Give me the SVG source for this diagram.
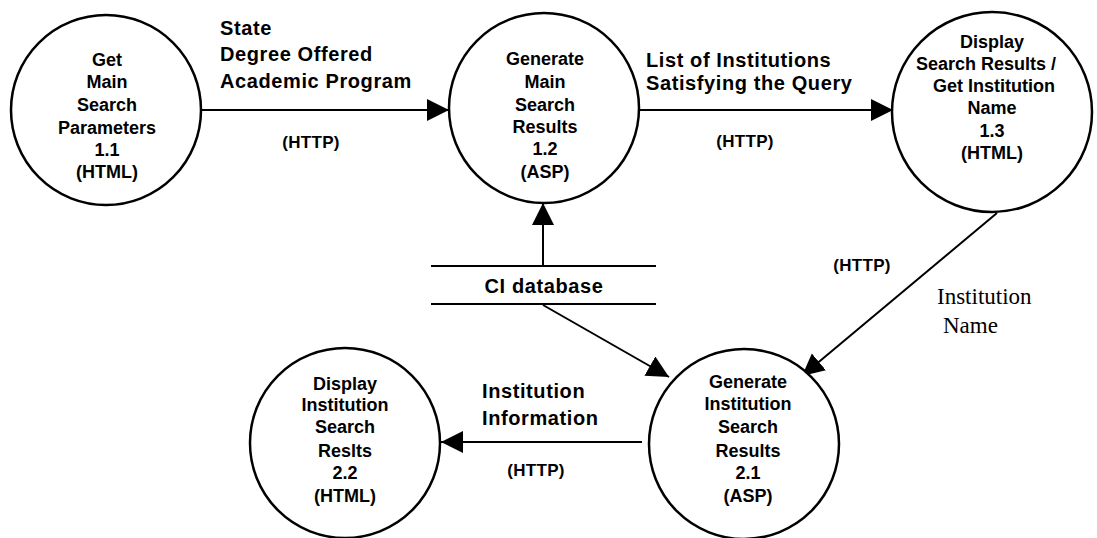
<svg xmlns="http://www.w3.org/2000/svg" width="1097" height="538" viewBox="0 0 1097 538">
  <style>
    .bubble { fill: #ffffff; stroke: #000000; stroke-width: 2.5; }
    .flow { fill: none; stroke: #000000; stroke-width: 2; }
    .store { fill: none; stroke: #000000; stroke-width: 2.2; }
    text { fill: #000000; }
    .nt { font-family: "Liberation Sans", Arial, sans-serif; font-weight: bold; font-size: 18px; text-anchor: middle; }
    .lbl { font-family: "Liberation Sans", Arial, sans-serif; font-weight: bold; font-size: 20px; letter-spacing: 0.6px; }
    .proto { font-family: "Liberation Sans", Arial, sans-serif; font-weight: bold; font-size: 17px; letter-spacing: 0.3px; text-anchor: middle; }
    .serif { font-family: "Liberation Serif", "Times New Roman", serif; font-size: 23px; }
  </style>
  <defs>
    <marker id="arrow" markerUnits="userSpaceOnUse" markerWidth="24" markerHeight="24" refX="22" refY="11" orient="auto">
      <path d="M0,0 L22,11 L0,22 Z" fill="#000000"/>
    </marker>
  </defs>

  <!-- data flows -->
  <g id="connectors">
    <line class="flow" x1="202" y1="110" x2="449" y2="110" marker-end="url(#arrow)"/>
    <line class="flow" x1="639" y1="110" x2="893" y2="110" marker-end="url(#arrow)"/>
    <line class="flow" x1="543" y1="266" x2="543" y2="203" marker-end="url(#arrow)"/>
    <line class="flow" x1="543" y1="305" x2="669" y2="377" marker-end="url(#arrow)"/>
    <line class="flow" x1="997" y1="213" x2="802" y2="376" marker-end="url(#arrow)"/>
    <line class="flow" x1="642" y1="442" x2="441" y2="442" marker-end="url(#arrow)"/>

    <text class="lbl" x="220" y="35">State</text>
    <text class="lbl" x="220" y="61">Degree Offered</text>
    <text class="lbl" x="220" y="88">Academic Program</text>
    <text class="proto" x="311" y="148">(HTTP)</text>

    <text class="lbl" x="646" y="67">List of Institutions</text>
    <text class="lbl" x="646" y="90">Satisfying the Query</text>
    <text class="proto" x="745" y="147">(HTTP)</text>

    <text class="proto" x="862" y="271">(HTTP)</text>
    <text class="serif" x="937" y="304">Institution</text>
    <text class="serif" x="943" y="333">Name</text>

    <text class="lbl" x="482" y="398">Institution</text>
    <text class="lbl" x="482" y="425">Information</text>
    <text class="proto" x="536" y="476">(HTTP)</text>
  </g>

  <!-- data store -->
  <g id="ci-database">
    <line class="store" x1="431" y1="266" x2="656" y2="266"/>
    <line class="store" x1="431" y1="304" x2="656" y2="304"/>
    <text class="lbl" x="544" y="293" text-anchor="middle">CI database</text>
  </g>

  <!-- processes -->
  <g id="p1-1">
    <circle class="bubble" cx="106" cy="110" r="95"/>
    <text class="nt" x="107" y="66">Get</text>
    <text class="nt" x="107" y="88">Main</text>
    <text class="nt" x="107" y="111">Search</text>
    <text class="nt" x="107" y="134">Parameters</text>
    <text class="nt" x="107" y="156">1.1</text>
    <text class="nt" x="107" y="178">(HTML)</text>
  </g>

  <g id="p1-2">
    <circle class="bubble" cx="544" cy="108" r="95"/>
    <text class="nt" x="545" y="65">Generate</text>
    <text class="nt" x="545" y="88">Main</text>
    <text class="nt" x="545" y="111">Search</text>
    <text class="nt" x="545" y="133">Results</text>
    <text class="nt" x="545" y="155">1.2</text>
    <text class="nt" x="545" y="178">(ASP)</text>
  </g>

  <g id="p1-3">
    <circle class="bubble" cx="992" cy="112" r="100"/>
    <text class="nt" x="992" y="48">Display</text>
    <text class="nt" x="986" y="70">Search Results /</text>
    <text class="nt" x="994" y="92">Get Institution</text>
    <text class="nt" x="992" y="114">Name</text>
    <text class="nt" x="992" y="137">1.3</text>
    <text class="nt" x="992" y="159">(HTML)</text>
  </g>

  <g id="p2-1">
    <circle class="bubble" cx="744" cy="444" r="95"/>
    <text class="nt" x="748" y="388">Generate</text>
    <text class="nt" x="748" y="410">Institution</text>
    <text class="nt" x="748" y="433">Search</text>
    <text class="nt" x="748" y="457">Results</text>
    <text class="nt" x="748" y="479">2.1</text>
    <text class="nt" x="748" y="502">(ASP)</text>
  </g>

  <g id="p2-2">
    <circle class="bubble" cx="345" cy="443" r="95"/>
    <text class="nt" x="345" y="390">Display</text>
    <text class="nt" x="345" y="411">Institution</text>
    <text class="nt" x="345" y="433">Search</text>
    <text class="nt" x="345" y="457">Reslts</text>
    <text class="nt" x="345" y="479">2.2</text>
    <text class="nt" x="345" y="502">(HTML)</text>
  </g>
</svg>
